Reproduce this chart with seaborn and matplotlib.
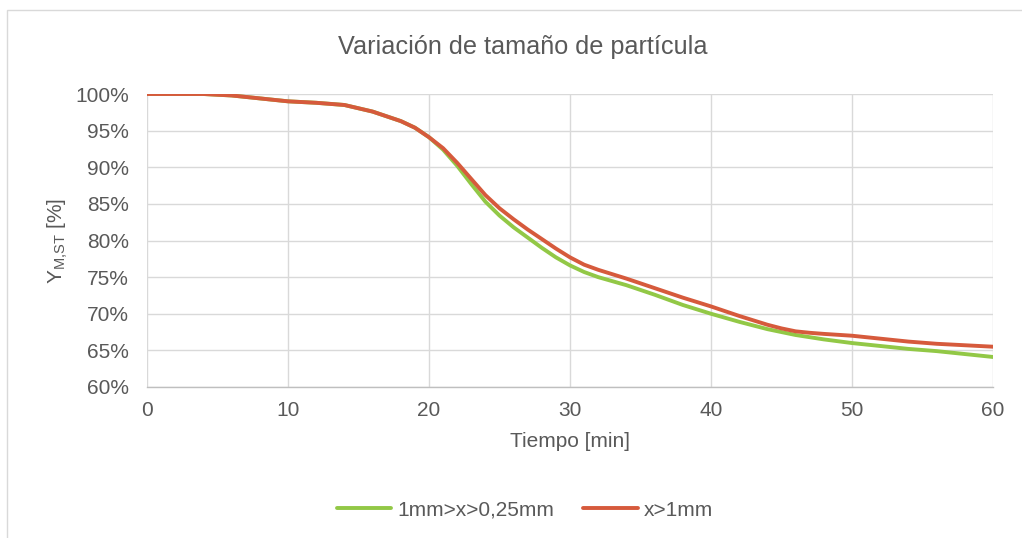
import numpy as np
import pandas as pd
import matplotlib
matplotlib.use("Agg")
import matplotlib.pyplot as plt
import seaborn as sns
from matplotlib.patches import Rectangle
from matplotlib.lines import Line2D
from matplotlib.ticker import FuncFormatter

# ---- data ----
t_green = [0, 2, 4, 6, 8, 10, 12, 14, 16, 18, 19, 20, 21, 22, 23, 24, 25, 26, 27, 28, 29, 30,
           31, 32, 34, 36, 38, 40, 42, 44, 46, 48, 50, 52, 54, 56, 58, 60]
y_green = [100, 100, 100, 99.8, 99.4, 99.0, 98.8, 98.5, 97.6, 96.3, 95.4, 94.1, 92.4, 90.2, 87.7,
           85.3, 83.4, 81.8, 80.4, 79.0, 77.7, 76.6, 75.7, 75.0, 73.9, 72.6, 71.2, 70.0, 68.9,
           67.9, 67.1, 66.5, 66.0, 65.6, 65.2, 64.9, 64.5, 64.1]

t_red = [0, 2, 4, 6, 8, 10, 12, 14, 16, 18, 19, 20, 21, 22, 23, 24, 25, 26, 27, 28, 29, 30,
         31, 32, 34, 36, 38, 40, 42, 44, 45, 46, 47, 48, 50, 52, 54, 56, 58, 60]
y_red = [100, 100, 100, 99.8, 99.4, 99.0, 98.8, 98.5, 97.6, 96.3, 95.4, 94.1, 92.6, 90.6, 88.4,
         86.2, 84.4, 82.9, 81.5, 80.2, 78.9, 77.7, 76.7, 76.0, 74.8, 73.5, 72.2, 71.0, 69.7,
         68.5, 68.0, 67.6, 67.4, 67.25, 67.0, 66.6, 66.2, 65.9, 65.7, 65.5]

series_names = ["1mm>x>0,25mm", "x>1mm"]
colors = ["#92C846", "#D65A3C"]
title = "Variación de tamaño de partícula"
xlabel = "Tiempo [min]"
ylabel = r"Y$_{\mathregular{M{,}ST}}$ [%]"
x_ticks = [0, 10, 20, 30, 40, 50, 60]
y_ticks = [60, 65, 70, 75, 80, 85, 90, 95, 100]

df = pd.concat([
    pd.DataFrame({"t": t_green, "y": y_green, "s": series_names[0]}),
    pd.DataFrame({"t": t_red, "y": y_red, "s": series_names[1]}),
])

sns.set_theme(style="white")
plt.rcParams["font.family"] = ["Liberation Sans", "DejaVu Sans"]

TXT = "#595959"
fig = plt.figure(figsize=(10.22, 5.38), dpi=100)
fig.patches.append(Rectangle((7 / 1022, -0.1), 1.2, (538 - 10) / 538 + 0.1,
                             transform=fig.transFigure, fill=False,
                             edgecolor="#D9D9D9", linewidth=1.0))
ax = fig.add_axes([147 / 1022, 1 - 387 / 538, (993 - 147) / 1022, (387 - 94) / 538])

sns.lineplot(data=df, x="t", y="y", hue="s", palette=dict(zip(series_names, colors)),
             linewidth=2.8, ax=ax, legend=False, sort=False)

ax.set_xlim(0, 60)
ax.set_ylim(60, 100)
ax.set_xticks(x_ticks)
ax.set_yticks(y_ticks)
ax.yaxis.set_major_formatter(FuncFormatter(lambda v, p: f"{v:.0f}%"))
ax.grid(True, color="#D9D9D9", linewidth=1.0)
ax.set_axisbelow(True)
for s in ["top", "right", "left"]:
    ax.spines[s].set_visible(False)
ax.spines["bottom"].set_color("#BFBFBF")
ax.spines["bottom"].set_linewidth(1.0)
ax.tick_params(axis="both", length=0, labelsize=15, labelcolor=TXT)
ax.tick_params(axis="y", pad=13)
ax.tick_params(axis="x", pad=10)

ax.set_xlabel(xlabel, fontsize=15, color=TXT, labelpad=9)
ax.set_ylabel(ylabel, fontsize=15, color=TXT, labelpad=4)
fig.text(523 / 1022, 1 - 47 / 538, title, ha="center", va="center", fontsize=18.2, color=TXT)

handles = [Line2D([], [], color=c, linewidth=2.8) for c in colors]
fig.legend(handles, series_names, loc="center", bbox_to_anchor=(525 / 1022, 1 - 510 / 538),
           ncol=2, frameon=False, fontsize=15, labelcolor=TXT,
           handlelength=2.6, handletextpad=0.3, columnspacing=1.4)

fig.savefig("out.png", dpi=100)
